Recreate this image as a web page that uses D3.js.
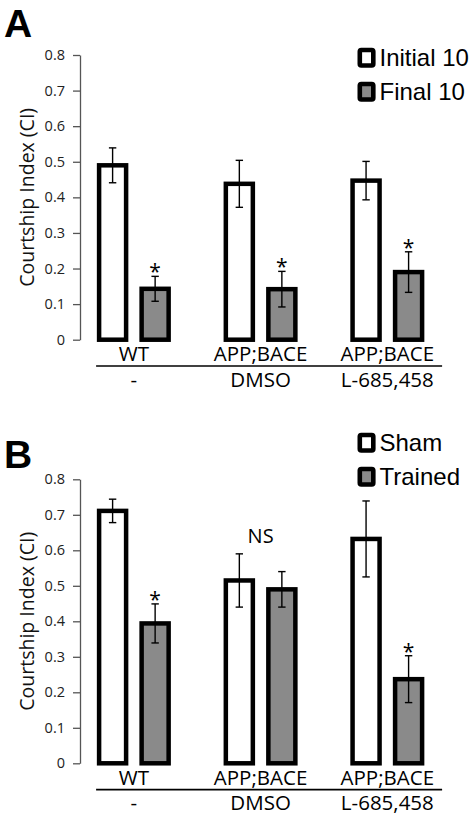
<!DOCTYPE html>
<html>
<head>
<meta charset="utf-8">
<script src="https://cdn.jsdelivr.net/npm/d3@7"></script>
<style>
  html, body { margin: 0; padding: 0; background: #fff; }
  svg { display: block; }
</style>
</head>
<body>
<svg id="chart" width="474" height="818"></svg>
<script>
// ---- data ----
const groups = ["WT", "APP;BACE (DMSO)", "APP;BACE (L-685,458)"];
const genotypeLabels = ["WT", "APP;BACE", "APP;BACE"];
const treatmentLabels = ["-", "DMSO", "L-685,458"];
const yTicks = [0, 0.1, 0.2, 0.3, 0.4, 0.5, 0.6, 0.7, 0.8];

const seriesA = ["Initial 10", "Final 10"];
const meansA_initial = [0.49, 0.438, 0.447];
const errsA_initial  = [0.049, 0.066, 0.054];
const meansA_final   = [0.143, 0.142, 0.19];
const errsA_final    = [0.035, 0.05, 0.057];
const starsA_final   = [true, true, true];

const seriesB = ["Sham", "Trained"];
const meansB_sham    = [0.711, 0.515, 0.632];
const errsB_sham     = [0.033, 0.075, 0.107];
const meansB_trained = [0.394, 0.49, 0.237];
const errsB_trained  = [0.055, 0.05, 0.066];
const starsB_trained = [true, false, true];
const nsLabelB       = [false, true, false];

const fills = ["#ffffff", "#8a8a8a"];

const svg = d3.select("#chart");
const axisFont = "'Open Sans', 'Noto Sans', sans-serif";
const legendFont = "'Liberation Sans', Arial, sans-serif";

const x0 = d3.scaleBand().domain(groups).range([70.5, 450.7]);
const x1 = d3.scaleBand().domain([0, 1]).range([0, x0.bandwidth()])
  .paddingInner(0.365).paddingOuter(0.6725);

function panel(opts) {
  const { letter, letterY, y0, y1, series, means, errs, stars, ns, legendTop } = opts;
  const y = d3.scaleLinear().domain([0, 0.8]).range([y0, y1]);
  const g = svg.append("g");

  // panel letter
  g.append("text").attr("x", 4).attr("y", letterY)
    .attr("font-family", legendFont).attr("font-weight", "bold")
    .attr("font-size", 39).attr("fill", "#000").text(letter);

  // y axis
  const ax = g.append("g").attr("transform", "translate(80,0)")
    .call(d3.axisLeft(y).tickValues(yTicks).tickFormat(d => d === 0 ? "0" : d3.format(".1f")(d))
      .tickSize(7).tickSizeOuter(0).tickPadding(8));
  ax.select(".domain").attr("stroke", "#555").attr("stroke-width", 1.3);
  ax.selectAll(".tick line").attr("stroke", "#555").attr("stroke-width", 1.3);
  ax.selectAll(".tick text").attr("font-family", axisFont).attr("font-size", 14.5).attr("fill", "#222");

  // y title
  g.append("text")
    .attr("transform", `translate(34,${(y0 + y1) / 2}) rotate(-90)`)
    .attr("text-anchor", "middle")
    .attr("font-family", axisFont).attr("font-size", 19.5).attr("fill", "#111")
    .text("Courtship Index (CI)");

  // bars
  const bw = x1.bandwidth();
  series.forEach((s, si) => {
    groups.forEach((grp, gi) => {
      const v = means[si][gi], e = errs[si][gi];
      const bx = x0(grp) + x1(si);
      g.append("rect")
        .attr("x", bx).attr("y", y(v))
        .attr("width", bw).attr("height", y(0) - y(v))
        .attr("fill", fills[si]).attr("stroke", "#000").attr("stroke-width", 4.5);
      const cx = bx + bw / 2;
      g.append("line").attr("x1", cx).attr("x2", cx).attr("y1", y(v + e)).attr("y2", y(v - e))
        .attr("stroke", "#000").attr("stroke-width", 1.4);
      [v + e, v - e].forEach(t => {
        g.append("line").attr("x1", cx - 3.7).attr("x2", cx + 3.7).attr("y1", y(t)).attr("y2", y(t))
          .attr("stroke", "#000").attr("stroke-width", 1.4);
      });
      if (stars[si] && stars[si][gi]) {
        g.append("text").attr("x", cx).attr("y", y(v + e) + 3)
          .attr("text-anchor", "middle").attr("font-family", axisFont).attr("font-size", 21)
          .attr("fill", "#000").text("*");
      }
    });
  });

  // NS labels
  groups.forEach((grp, gi) => {
    if (ns && ns[gi]) {
      const top = Math.max(means[0][gi] + errs[0][gi], means[1][gi] + errs[1][gi]);
      g.append("text").attr("x", x0(grp) + x0.bandwidth() / 2).attr("y", y(top) - 11)
        .attr("text-anchor", "middle").attr("font-family", axisFont).attr("font-size", 20)
        .attr("fill", "#000").text("NS");
    }
  });

  // x labels
  groups.forEach((grp, gi) => {
    const cx = x0(grp) + x0.bandwidth() / 2;
    g.append("text").attr("x", cx).attr("y", y(0) + 21.5)
      .attr("text-anchor", "middle").attr("font-family", axisFont).attr("font-size", 20.5)
      .attr("fill", "#000").text(genotypeLabels[gi]);
    g.append("text").attr("x", cx).attr("y", y(0) + 47)
      .attr("text-anchor", "middle").attr("font-family", axisFont).attr("font-size", 20.5)
      .attr("fill", "#000").text(treatmentLabels[gi]);
  });
  const lineL = x0(groups[0]) + x1(0) - 3;
  const lineR = x0(groups[2]) + x1(1) + bw + 20;
  g.append("line").attr("x1", lineL).attr("x2", lineR)
    .attr("y1", y(0) + 26.3).attr("y2", y(0) + 26.3)
    .attr("stroke", "#000").attr("stroke-width", 1.6);

  // legend
  series.forEach((s, si) => {
    const ly = legendTop + si * 34;
    g.append("rect").attr("x", 359.8).attr("y", ly + 2.3).attr("width", 13.5).attr("height", 15.5)
      .attr("rx", 1.5).attr("fill", fills[si]).attr("stroke", "#000").attr("stroke-width", 4.6);
    g.append("text").attr("x", 379.5).attr("y", ly + 18)
      .attr("font-family", legendFont).attr("font-size", 24).attr("fill", "#000").text(s);
  });
}

panel({
  letter: "A", letterY: 37.3, y0: 339.7, y1: 55,
  series: seriesA,
  means: [meansA_initial, meansA_final],
  errs: [errsA_initial, errsA_final],
  stars: [null, starsA_final],
  ns: null,
  legendTop: 47.7
});

panel({
  letter: "B", letterY: 468.3, y0: 763.3, y1: 479.3,
  series: seriesB,
  means: [meansB_sham, meansB_trained],
  errs: [errsB_sham, errsB_trained],
  stars: [null, starsB_trained],
  ns: nsLabelB,
  legendTop: 432.7
});
</script>
</body>
</html>
